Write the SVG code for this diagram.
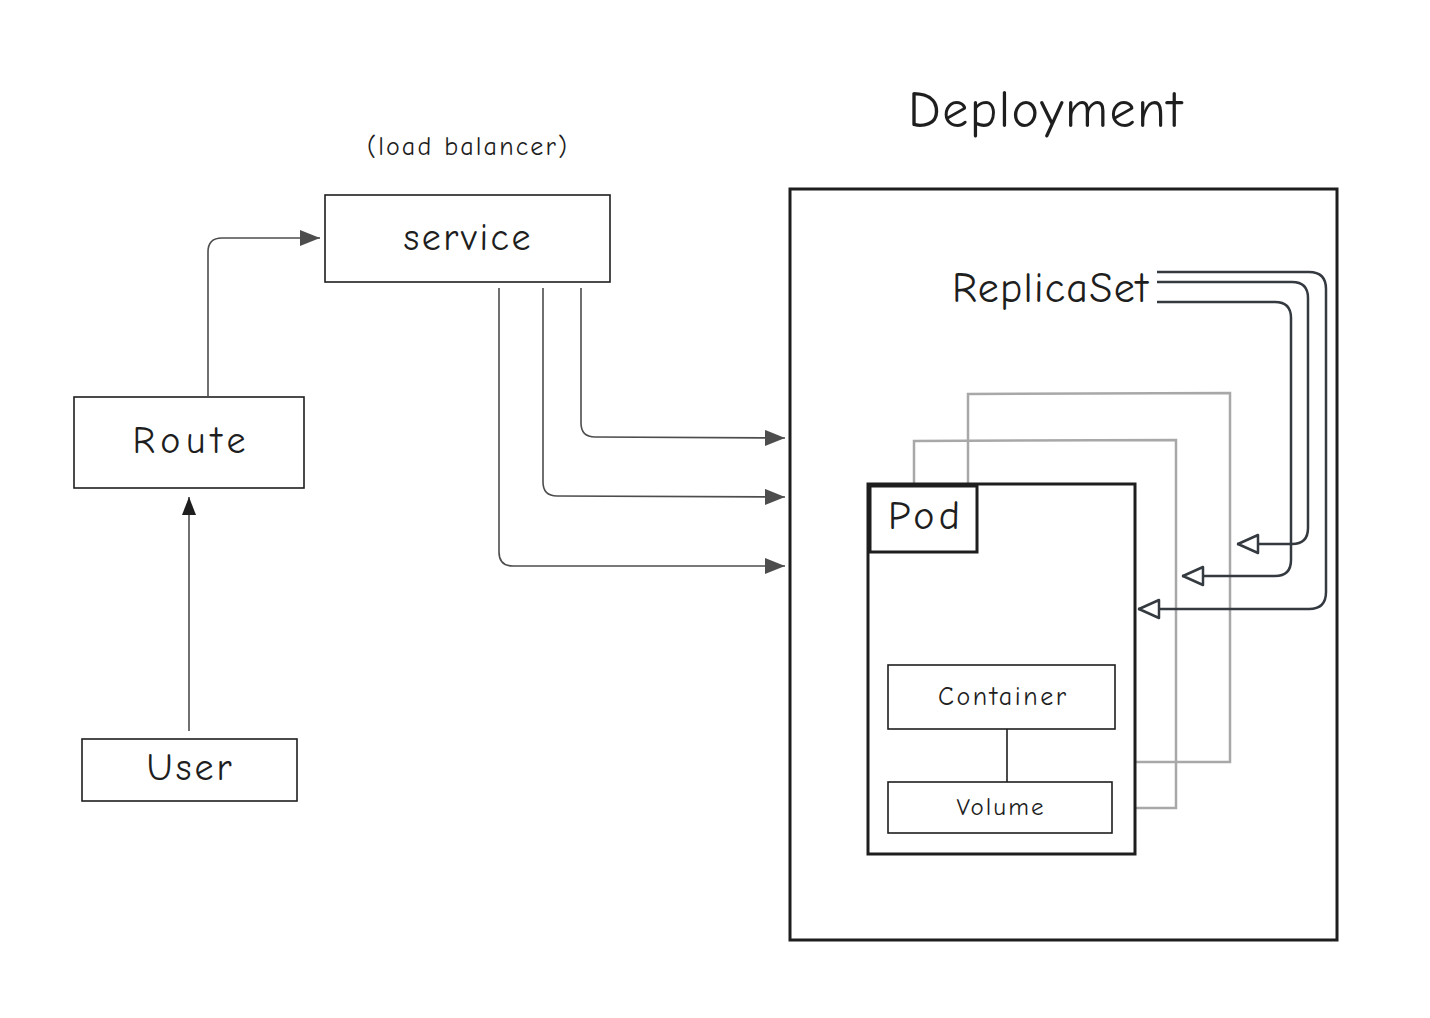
<svg xmlns="http://www.w3.org/2000/svg" width="1430" height="1018" viewBox="0 0 1430 1018">
<defs>
<style>
text{font-family:"Comic Neue","Open Sans","Liberation Sans",sans-serif;fill:#1e1e1e;text-anchor:middle;dominant-baseline:central}
.box{fill:#fff;stroke:#1e1e1e;stroke-width:1.6}
.thick{fill:#fff;stroke:#1e1e1e;stroke-width:3}
.ghost{fill:none;stroke:#a8a8a8;stroke-width:2.5}
.svc{fill:none;stroke:#4d4d4d;stroke-width:1.6}
.rs{fill:none;stroke:#343a40;stroke-width:2.5}
</style>
<marker id="fill" viewBox="0 0 20 16" refX="20" refY="8" markerWidth="20" markerHeight="16" markerUnits="userSpaceOnUse" orient="auto"><path d="M0,0 L20,8 L0,16 Z" fill="#4d4d4d"/></marker>
<marker id="fillUser" viewBox="0 0 18 14" refX="18" refY="7" markerWidth="18" markerHeight="14" markerUnits="userSpaceOnUse" orient="auto"><path d="M0,0 L18,7 L0,14 Z" fill="#1e1e1e"/></marker>
<marker id="hollow" viewBox="0 0 24 22" refX="23" refY="11" markerWidth="24" markerHeight="22" markerUnits="userSpaceOnUse" orient="auto"><path d="M2,2 L22,11 L2,20 Z" fill="#fff" stroke="#343a40" stroke-width="2.5" stroke-linejoin="round"/></marker>
</defs>
<rect width="1430" height="1018" fill="#fff"/>

<g id="title"><text x="1045" y="110" font-size="52" textLength="274" lengthAdjust="spacing">Deployment</text></g>
<g id="lb-label"><text x="467" y="147" font-size="26" textLength="200" lengthAdjust="spacing">(load balancer)</text></g>

<g id="deployment"><rect class="thick" x="790" y="189" width="547" height="751" fill="none"/></g>

<g id="replicaset"><text x="1050" y="288" font-size="42" textLength="196" lengthAdjust="spacing">ReplicaSet</text></g>

<g id="pod-back-2"><path class="ghost" d="M968,483 L968,394 L1230,393 L1230,762 L1136,762"/></g>
<g id="pod-back-1"><path class="ghost" d="M914,483 L914,441 L1176,440 L1176,808 L1136,808"/></g>

<g id="pod">
<rect class="thick" x="868" y="484" width="267" height="370"/>
<rect class="thick" x="870" y="486" width="107" height="66"/>
<text x="924" y="516" font-size="40" textLength="72" lengthAdjust="spacing">Pod</text>
</g>

<g id="container"><rect class="box" x="888" y="665" width="227" height="64"/><text x="1002" y="697" font-size="26" textLength="128" lengthAdjust="spacing">Container</text></g>
<g id="volume"><rect class="box" x="888" y="782" width="224" height="51"/><text x="1000" y="806" font-size="25" textLength="87" lengthAdjust="spacing">Volume</text></g>

<g id="service"><rect class="box" x="325" y="195" width="285" height="87"/><text x="467" y="238" font-size="38" textLength="127" lengthAdjust="spacing">service</text></g>
<g id="route"><rect class="box" x="74" y="397" width="230" height="91"/><text x="189" y="441" font-size="38" textLength="113" lengthAdjust="spacing">Route</text></g>
<g id="user"><rect class="box" x="82" y="739" width="215" height="62"/><text x="189" y="768" font-size="38" textLength="85" lengthAdjust="spacing">User</text></g>

<g id="connectors">
<path class="svc" d="M189,731 L189,497" stroke="#1e1e1e" marker-end="url(#fillUser)"/>
<path class="svc" d="M208,397 L208,252 Q208,238 222,238 L320,238" marker-end="url(#fill)"/>
<path class="svc" d="M581,288 L581,423 Q581,437 595,437 L785,438" marker-end="url(#fill)"/>
<path class="svc" d="M543,288 L543,482 Q543,496 557,496 L785,497" marker-end="url(#fill)"/>
<path class="svc" d="M499,288 L499,552 Q499,566 513,566 L785,566" marker-end="url(#fill)"/>
<path d="M1007,729 L1007,782" stroke="#1e1e1e" stroke-width="1.6"/>
<path class="rs" d="M1157,272 L1309,272 Q1326,272 1326,289 L1326,592 Q1326,609 1309,609 L1138,609" marker-end="url(#hollow)"/>
<path class="rs" d="M1157,282 L1292,282 Q1308,282 1308,298 L1308,528 Q1308,544 1292,544 L1237,544" marker-end="url(#hollow)"/>
<path class="rs" d="M1157,302 L1275,302 Q1291,302 1291,318 L1291,560 Q1291,576 1275,576 L1182,576" marker-end="url(#hollow)"/>
</g>
</svg>
